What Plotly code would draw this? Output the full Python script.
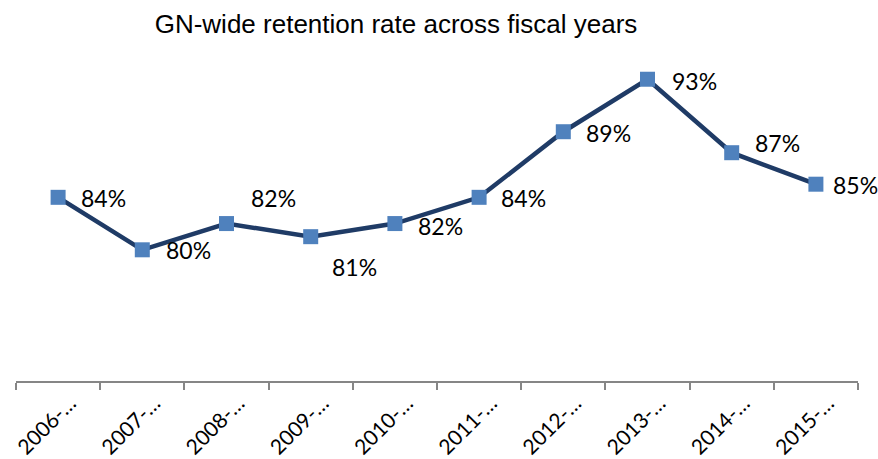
import plotly.graph_objects as go

# Fiscal years (labels as they appear, truncated) and retention rate in percent
fiscal_years = ["2006-…", "2007-…", "2008-…", "2009-…", "2010-…",
                "2011-…", "2012-…", "2013-…", "2014-…", "2015-…"]
retention_pct = [84.0, 80.0, 82.0, 81.0, 82.0, 84.0, 89.0, 93.0, 87.4, 85.0]

# Pixel nudges for each data label (dx, dy), placed to the right of its marker
label_nudges = [(21, -1), (22, 0), (22, 26), (19, -30), (21, -2),
                (20, -1), (21, -1), (22, -2), (21, 10), (15, -1)]

LINE_COLOR = "#1F3B66"
MARKER_COLOR = "#4F81BD"

fig = go.Figure()
fig.add_trace(go.Scatter(
    x=fiscal_years,
    y=retention_pct,
    mode="lines+markers",
    line=dict(color=LINE_COLOR, width=4.5),
    marker=dict(symbol="square", size=15, color=MARKER_COLOR,
                line=dict(color=MARKER_COLOR, width=0)),
    hoverinfo="skip",
    showlegend=False,
))

for cat, val, (dx, dy) in zip(fiscal_years, retention_pct, label_nudges):
    fig.add_annotation(
        x=cat, y=val, xref="x", yref="y",
        text=f"{val:.0f}%",
        showarrow=False,
        xanchor="left", yanchor="middle",
        xshift=dx, yshift=dy,
        font=dict(family="Lato, Carlito, sans-serif", size=23, color="#000000"),
    )

fig.update_layout(
    width=878, height=459,
    margin=dict(l=16, r=20, t=53, b=78, autoexpand=False),
    paper_bgcolor="white",
    plot_bgcolor="white",
    title=dict(
        text="GN-wide retention rate across fiscal years",
        x=396 / 878, xanchor="center",
        y=1 - 24 / 459, yanchor="middle",
        font=dict(family="Liberation Sans, Arial, sans-serif", size=26, color="#000000"),
    ),
    xaxis=dict(
        type="category",
        automargin=False,
        showline=True, linecolor="#868686", linewidth=1.5,
        ticks="outside", tickson="boundaries", ticklen=7, tickcolor="#868686", tickwidth=1.5,
        tickangle=-45,
        ticklabelshift=12, ticklabelstandoff=0,
        tickfont=dict(family="Lato, Carlito, sans-serif", size=21, color="#000000"),
        showgrid=False, zeroline=False,
        range=[-0.5, len(fiscal_years) - 0.5],
    ),
    yaxis=dict(
        range=[70, 95],
        automargin=False,
        showline=False, showgrid=False, zeroline=False,
        showticklabels=False, ticks="",
    ),
)

fig.write_html("out.html")
